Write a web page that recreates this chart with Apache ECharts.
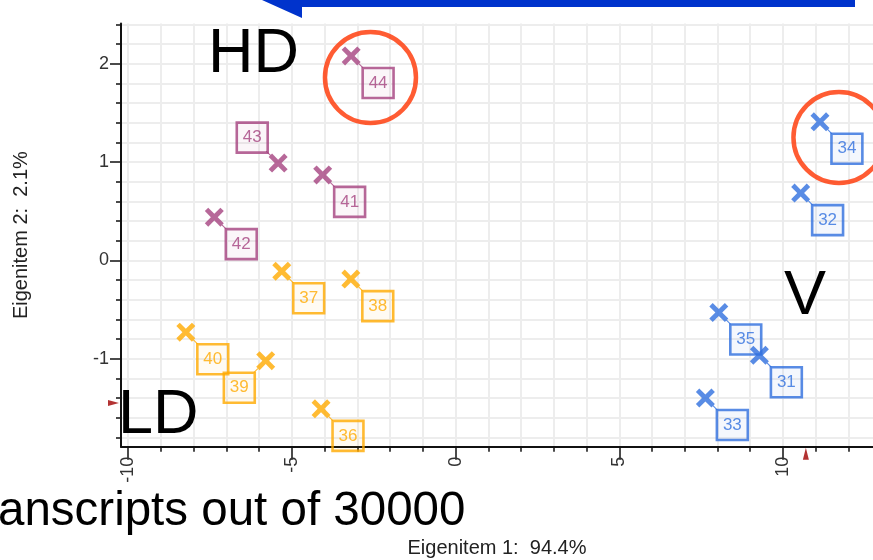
<!DOCTYPE html>
<html>
<head>
<meta charset="utf-8">
<title>Eigenitem scatter</title>
<script src="https://cdn.jsdelivr.net/npm/echarts@6/dist/echarts.min.js"></script>
<style>
  html, body { margin: 0; padding: 0; background: #ffffff; }
  #main { width: 873px; height: 560px; }
</style>
</head>
<body>
<div id="main"></div>
<script>
  // visible window of the (cropped) plot
  var xRange = [-10.22, 12.75];
  var yRange = [-1.895, 2.41];
  var xTicks = [-10, -5, 0, 5, 10];
  var yTicks = [-1, 0, 1, 2];

  // HD samples
  var hdNames = ['44', '43', '42', '41'];
  var hdX = [-3.19, -5.42, -7.37, -4.06];
  var hdY = [2.08, 0.99, 0.44, 0.87];
  // LD samples
  var ldNames = ['37', '38', '40', '39', '36'];
  var ldX = [-5.31, -3.20, -8.24, -5.80, -4.11];
  var ldY = [-0.11, -0.19, -0.73, -1.02, -1.51];
  // V samples
  var vNames = ['34', '32', '35', '31', '33'];
  var vX = [11.13, 10.54, 8.04, 9.28, 7.63];
  var vY = [1.41, 0.685, -0.53, -0.965, -1.40];

  // red rings (centres)
  var ringX = [-2.60, 11.71];
  var ringY = [1.86, 1.25];
  // little cursor marks on the axes
  var cursorX = 10.7;
  var cursorY = -1.45;

  var FONT = 'Liberation Sans, Arial, sans-serif';
  // cross + a thin tail pointing at the label box
  var cross = 'M1.8,0 L5,3.2 L8.2,0 L10,1.8 L6.8,5 L10,8.2 L8.2,10 L5,6.8 L1.8,10 L0,8.2 L3.2,5 L0,1.8 Z ';
  var crossDR = 'path://' + cross + 'M9.2,8.8 L11.5,11.1 L11.1,11.5 L8.8,9.2 Z';
  var crossUL = 'path://' + cross + 'M0.8,1.2 L-1.5,-1.1 L-1.1,-1.5 L1.2,0.8 Z';
  var crossDL = 'path://' + cross + 'M0.8,8.8 L-1.5,11.1 L-1.1,11.5 L1.2,9.2 Z';
  var symSize = 21.85;
  var symShift = 1.43;

  // where the label box sits, default is down-right
  var labelSide = { '43': 'upLeft', '39': 'downLeft' };

  function makePoints(names, xs, ys) {
    return names.map(function (n, i) {
      var item = { name: n, value: [xs[i], ys[i]] };
      if (labelSide[n] === 'upLeft') {
        item.symbol = crossUL;
        item.symbolOffset = [-symShift, -symShift];
        item.label = { position: [1.9, 1.9], align: 'right', verticalAlign: 'bottom' };
      } else if (labelSide[n] === 'downLeft') {
        item.symbol = crossDL;
        item.symbolOffset = [-symShift, symShift];
        item.label = { position: [1.4, 21.5], align: 'right', verticalAlign: 'top' };
      }
      return item;
    });
  }

  function group(name, color, bg, data) {
    return {
      name: name,
      type: 'scatter',
      symbol: crossDR,
      symbolSize: symSize,
      symbolOffset: [symShift, symShift],
      clip: false,
      z: 3,
      itemStyle: { color: color },
      label: {
        show: true,
        formatter: '{b}',
        position: [21, 21.5],
        align: 'left',
        verticalAlign: 'top',
        color: color,
        fontFamily: FONT,
        fontSize: 17,
        lineHeight: 18,
        padding: [6, 6, 6, 6],
        backgroundColor: bg,
        borderColor: color,
        borderWidth: 1.3
      },
      data: data
    };
  }

  var chart = echarts.init(document.getElementById('main'), null, { renderer: 'canvas' });

  var gridColor = '#EDEDED';

  var option = {
    animation: false,
    backgroundColor: '#ffffff',
    grid: { left: 121, top: 23.5, right: 0, bottom: 113.3, outerBoundsMode: 'none', containLabel: false },
    xAxis: {
      type: 'value',
      min: xRange[0],
      max: xRange[1],
      splitNumber: 5,
      name: 'Eigenitem 1:  94.4%',
      nameLocation: 'middle',
      nameGap: 92,
      nameTextStyle: { fontFamily: FONT, fontSize: 20, color: '#222' },
      axisLine: { onZero: false, lineStyle: { color: '#111', width: 2 } },
      axisTick: { show: true, length: 13, customValues: xTicks, lineStyle: { color: '#111', width: 1.5 } },
      minorTick: { show: true, splitNumber: 5, length: 5, lineStyle: { color: '#111', width: 1.5 } },
      axisLabel: { rotate: 90, margin: 10, customValues: xTicks, fontFamily: FONT, fontSize: 18, color: '#333' },
      splitLine: { show: true, lineStyle: { color: gridColor, width: 2 } },
      minorSplitLine: { show: true, lineStyle: { color: gridColor, width: 2 } }
    },
    yAxis: {
      type: 'value',
      min: yRange[0],
      max: yRange[1],
      splitNumber: 5,
      name: 'Eigenitem 2:  2.1%',
      nameLocation: 'middle',
      nameGap: 90,
      nameTextStyle: { fontFamily: FONT, fontSize: 20, color: '#222' },
      axisLine: { onZero: false, lineStyle: { color: '#111', width: 2 } },
      axisTick: { show: true, length: 11, customValues: yTicks, lineStyle: { color: '#111', width: 1.5 } },
      minorTick: { show: true, splitNumber: 5, length: 5, lineStyle: { color: '#111', width: 1.5 } },
      axisLabel: { margin: 12, customValues: yTicks, fontFamily: FONT, fontSize: 18, color: '#333' },
      splitLine: { show: true, lineStyle: { color: gridColor, width: 2 } },
      minorSplitLine: { show: true, lineStyle: { color: gridColor, width: 2 } }
    },
    series: [
      group('HD', '#A5427F', 'rgba(165,66,127,0.06)', makePoints(hdNames, hdX, hdY)),
      group('LD', '#FFAA00', 'rgba(255,170,0,0.06)', makePoints(ldNames, ldX, ldY)),
      group('V', '#2F6FDF', 'rgba(47,111,223,0.07)', makePoints(vNames, vX, vY)),
      {
        // rings
        type: 'scatter',
        symbol: 'circle',
        symbolSize: 91,
        clip: false,
        silent: true,
        z: 5,
        itemStyle: { color: 'rgba(0,0,0,0)', borderColor: '#FF3300', borderWidth: 4.5 },
        data: ringX.map(function (x, i) { return [x, ringY[i]]; })
      },
      {
        // cursor marks
        type: 'scatter',
        symbol: 'triangle',
        clip: false,
        silent: true,
        z: 4,
        itemStyle: { color: '#A00000' },
        data: [
          { value: [xRange[0], cursorY], symbolSize: [6, 11], symbolRotate: -90, symbolOffset: [-7.5, 0] },
          { value: [cursorX, yRange[0]], symbolSize: [6, 12], symbolOffset: [0, 7] }
        ]
      }
    ],
    graphic: [
      {
        type: 'polygon',
        z: 100,
        shape: { points: [[262, 0], [302, 18], [302, 7], [855, 7], [855, 0]] },
        style: { fill: '#0033CC' }
      },
      { type: 'text', z: 100, style: { text: 'HD', x: 208, y: 54.5, verticalAlign: 'middle', font: '63px ' + FONT, fill: '#000' } },
      { type: 'text', z: 100, style: { text: 'LD', x: 118, y: 416, verticalAlign: 'middle', font: '63px ' + FONT, fill: '#000' } },
      { type: 'text', z: 100, style: { text: 'V', x: 784, y: 297, verticalAlign: 'middle', font: '63px ' + FONT, fill: '#000' } },
      { type: 'text', z: 100, style: { text: 'anscripts out of 30000', x: -2, y: 512, verticalAlign: 'middle', font: '47.5px ' + FONT, fill: '#000' } }
    ]
  };

  chart.setOption(option);
</script>
</body>
</html>
